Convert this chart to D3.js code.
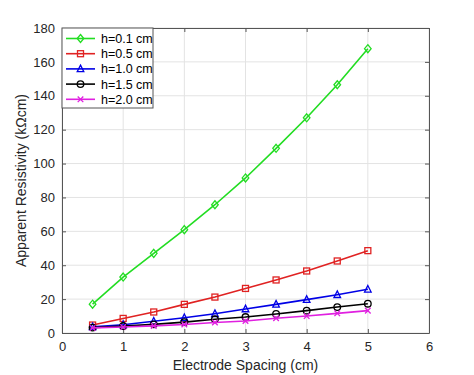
<!DOCTYPE html>
<html><head><meta charset="utf-8">
<script src="https://cdn.jsdelivr.net/npm/d3@7"></script>
<style>body{margin:0;background:#fff;} text{font-family:Arial,"Liberation Sans",sans-serif;}</style>
</head><body>
<svg id="c" width="474" height="375"></svg>
<script>
const spacing = [0.5,1,1.5,2,2.5,3,3.5,4,4.5,5];
const h01 = [17,33,47,61,75.7,91.5,109,127,146.5,167.8];
const h05 = [4.7,8.6,12.4,16.9,21.2,26.3,31.3,36.6,42.5,48.6];
const h10 = [3.6,4.9,6.9,9.0,11.4,14.2,16.9,19.7,22.6,25.8];
const h15 = [3.2,4.1,5.1,6.4,8.1,9.4,11.2,13.2,15.3,17.3];
const h20 = [3.0,3.5,4.2,5.0,6.2,7.1,8.7,10.0,11.6,13.2];
const seriesNames = ["h=0.1 cm","h=0.5 cm","h=1.0 cm","h=1.5 cm","h=2.0 cm"];
const seriesColors = ["#22dd22","#e02222","#0000e6","#000000","#e020e0"];
const seriesMarkers = ["diamond","square","triangle","circle","cross"];
const xTicks = [0,1,2,3,4,5,6];
const yTicks = [0,20,40,60,80,100,120,140,160,180];
const allSeries = [h01,h05,h10,h15,h20];

const svg = d3.select("#c");
const L=62,R=429,T=28,B=333;
const x = d3.scaleLinear().domain([0,6]).range([L,R]);
const y = d3.scaleLinear().domain([0,180]).range([B,T]);
const axisCol = "#262626";

// grid
svg.append("g").selectAll("line").data(xTicks).join("line")
  .attr("x1",d=>x(d)).attr("x2",d=>x(d)).attr("y1",T).attr("y2",B)
  .attr("stroke","#e3e3e3").attr("stroke-width",1);
svg.append("g").selectAll("line").data(yTicks).join("line")
  .attr("y1",d=>y(d)).attr("y2",d=>y(d)).attr("x1",L).attr("x2",R)
  .attr("stroke","#e3e3e3").attr("stroke-width",1);

// axes
const fmt = d3.format("d");
const xa = svg.append("g").attr("transform",`translate(0,${B})`)
  .call(d3.axisBottom(x).tickValues(xTicks).tickFormat(fmt).tickSizeInner(-4).tickSizeOuter(0).tickPadding(9));
const xt = svg.append("g").attr("transform",`translate(0,${T})`)
  .call(d3.axisTop(x).tickValues(xTicks).tickSizeInner(-4).tickSizeOuter(0).tickFormat(""));
const ya = svg.append("g").attr("transform",`translate(${L},0)`)
  .call(d3.axisLeft(y).tickValues(yTicks).tickFormat(fmt).tickSizeInner(-4).tickSizeOuter(0).tickPadding(7));
const yr = svg.append("g").attr("transform",`translate(${R},0)`)
  .call(d3.axisRight(y).tickValues(yTicks).tickSizeInner(-4).tickSizeOuter(0).tickFormat(""));
[xa,xt,ya,yr].forEach(g=>{
  g.select(".domain").attr("stroke","#555").attr("stroke-width",1);
  g.selectAll(".tick line").attr("stroke","#555");
  g.selectAll("text").attr("fill",axisCol).style("font-size","13px").style("font-family","Arial, 'Liberation Sans', sans-serif");
});

svg.append("text").attr("x",(L+R)/2).attr("y",370).attr("text-anchor","middle")
  .attr("fill",axisCol).style("font-size","14px").text("Electrode Spacing (cm)");
svg.append("text").attr("transform",`translate(26,${(T+B)/2}) rotate(-90)`).attr("text-anchor","middle")
  .attr("fill",axisCol).style("font-size","14px").text("Apparent Resistivity (kΩcm)");

function marker(g, type, cx, cy, col){
  const s=3.3;
  if(type==="diamond") g.append("path").attr("d",`M${cx},${cy-s-0.7}L${cx+s},${cy}L${cx},${cy+s+0.7}L${cx-s},${cy}Z`);
  else if(type==="square") g.append("rect").attr("x",cx-s+0.3).attr("y",cy-s+0.3).attr("width",2*s-0.6).attr("height",2*s-0.6);
  else if(type==="triangle") g.append("path").attr("d",`M${cx},${cy-s-0.5}L${cx+s},${cy+s-0.5}L${cx-s},${cy+s-0.5}Z`);
  else if(type==="circle") g.append("circle").attr("cx",cx).attr("cy",cy).attr("r",s);
  else if(type==="cross") g.append("path").attr("d",`M${cx-s+0.5},${cy-s+0.5}L${cx+s-0.5},${cy+s-0.5}M${cx-s+0.5},${cy+s-0.5}L${cx+s-0.5},${cy-s+0.5}`);
  g.selectAll("*").attr("fill","none").attr("stroke",col).attr("stroke-width",1.3);
}

const line = d3.line().x(d=>x(d[0])).y(d=>y(d[1]));
allSeries.forEach((vals,i)=>{
  const pts = spacing.map((s,j)=>[s,vals[j]]);
  svg.append("path").datum(pts).attr("d",line).attr("fill","none")
    .attr("stroke",seriesColors[i]).attr("stroke-width",1.6);
  pts.forEach(p=>{ marker(svg.append("g"), seriesMarkers[i], x(p[0]), y(p[1]), seriesColors[i]); });
});

// legend
const lg = svg.append("g");
lg.append("rect").attr("x",L).attr("y",T).attr("width",91).attr("height",80)
  .attr("fill","#fff").attr("stroke","#555").attr("stroke-width",1);
seriesNames.forEach((n,i)=>{
  const yy = T+10.5+i*15.2;
  lg.append("line").attr("x1",L+4).attr("x2",L+33).attr("y1",yy).attr("y2",yy)
    .attr("stroke",seriesColors[i]).attr("stroke-width",1.6);
  marker(lg.append("g"), seriesMarkers[i], L+18.5, yy, seriesColors[i]);
  lg.append("text").attr("x",L+39).attr("y",yy+4.5).attr("fill","#000")
    .style("font-size","12.5px").text(n);
});
</script>
</body></html>
